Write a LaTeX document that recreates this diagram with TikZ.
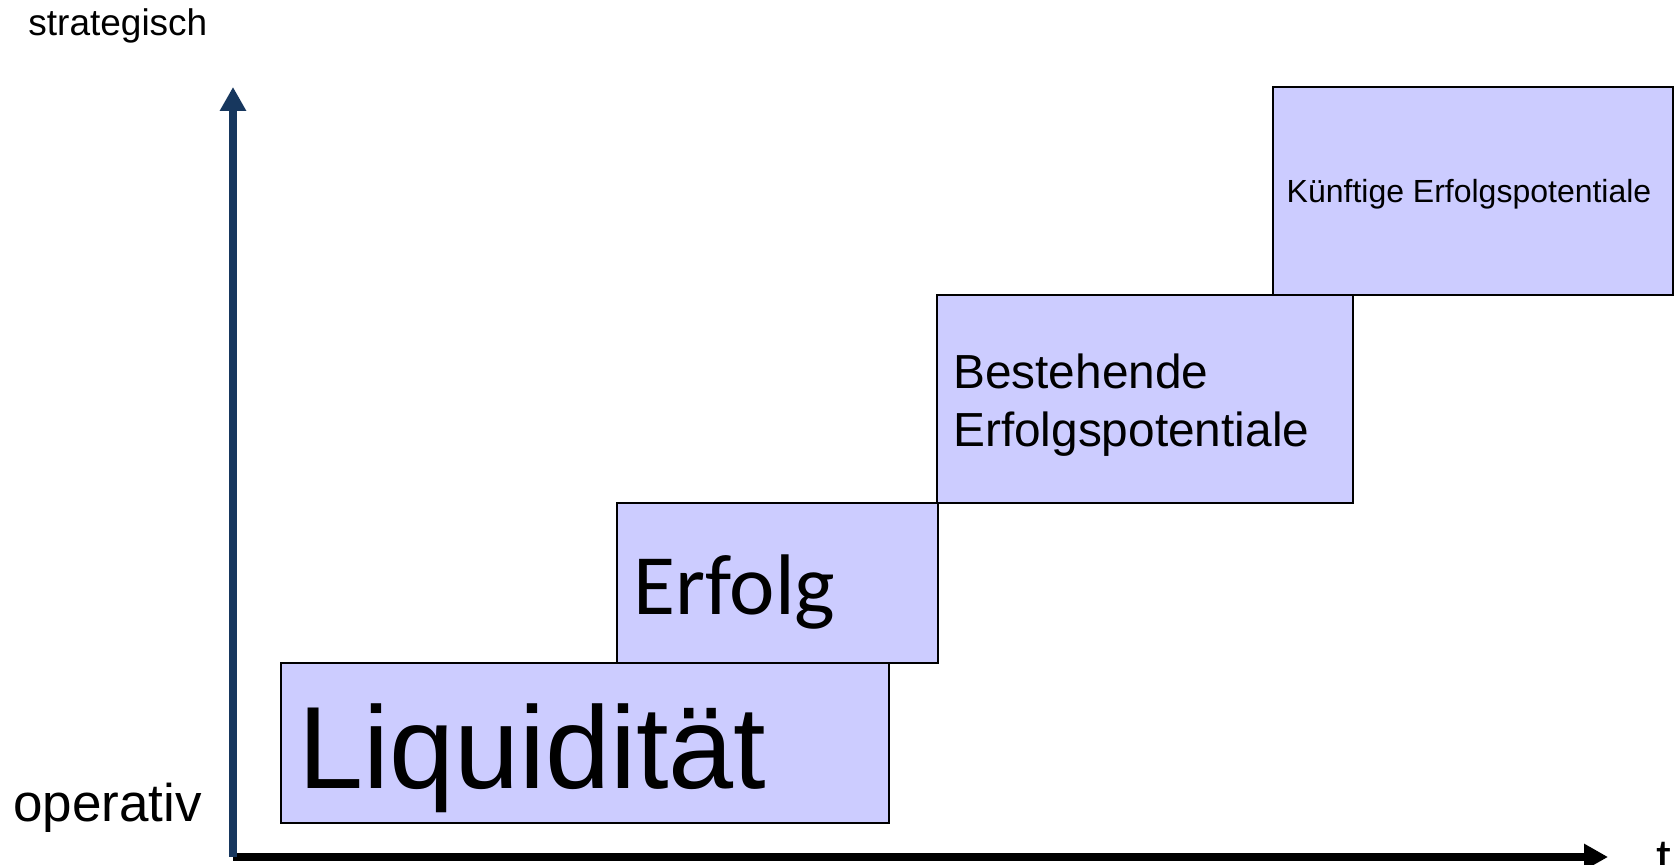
\documentclass[tikz,border=0pt]{standalone}
\usepackage{fontspec}
\setmainfont{Liberation Sans}
\newfontfamily\calibri{Carlito}
\usetikzlibrary{arrows.meta,positioning}
\definecolor{stufenblau}{RGB}{204,204,255}
\definecolor{achsenblau}{RGB}{23,55,94}
\begin{document}
\begin{tikzpicture}[x=.5pt,y=.5pt,>={Triangle[length=12pt,width=12.5pt]}]
	\tikzset{stufe/.style={draw=black,line width=1.2pt,fill=stufenblau,inner sep=0pt},
		achse/.style={line width=3.75pt,->},
		txt/.style={inner sep=0pt,anchor=base west}
	}
	\useasboundingbox (0,0) rectangle (1674,865);
	% Stufen
	\node[stufe,minimum width=304pt,minimum height=80pt] (liq) at (585,122) {};
	\node[stufe,minimum width=160.5pt,minimum height=80pt] (erf) at (777.5,282) {};
	\node[stufe,minimum width=208pt,minimum height=104pt] (best) at (1145,466) {};
	\node[stufe,minimum width=200pt,minimum height=104pt] (kuenf) at (1473,674) {};
	\node[txt,font=\fontsize{58.5pt}{70pt}\selectfont] (liqtxt) at ([shift={(18,36)}]liq.south west) {Liquidität};
	\node[txt,font=\calibri\fontsize{43pt}{50pt}\selectfont] (erftxt) at ([shift={(17,50)}]erf.south west) {Erfolg};
	\node[txt,align=left,font=\fontsize{23.9pt}{29pt}\selectfont] (besttxt) at ([shift={(17,58)}]best.south west) {Bestehende\\Erfolgspotentiale};
	\node[inner sep=0pt,anchor=base,font=\fontsize{16pt}{19pt}\selectfont] (kuenftxt) at ([shift={(-4,-12)}]kuenf.center) {Künftige Erfolgspotentiale};
	% Achsen
	\coordinate (O) at (233,8);
	\coordinate (ytop) at (233,778);
	\coordinate (xend) at (1608,8);
	\draw[achse,black] (O)--(xend);
	\draw[achse,achsenblau] (O)--(ytop);
	\node[txt,font=\fontsize{18.5pt}{22pt}\selectfont] (strat) at (28,829) {strategisch};
	\node[txt,font=\fontsize{26.5pt}{32pt}\selectfont] (oper) at (13,43) {operativ};
	\node[txt,font=\fontsize{26.5pt}{32pt}\selectfont] (tlabel) at (1656,-12) {t};
\end{tikzpicture}
\end{document}
